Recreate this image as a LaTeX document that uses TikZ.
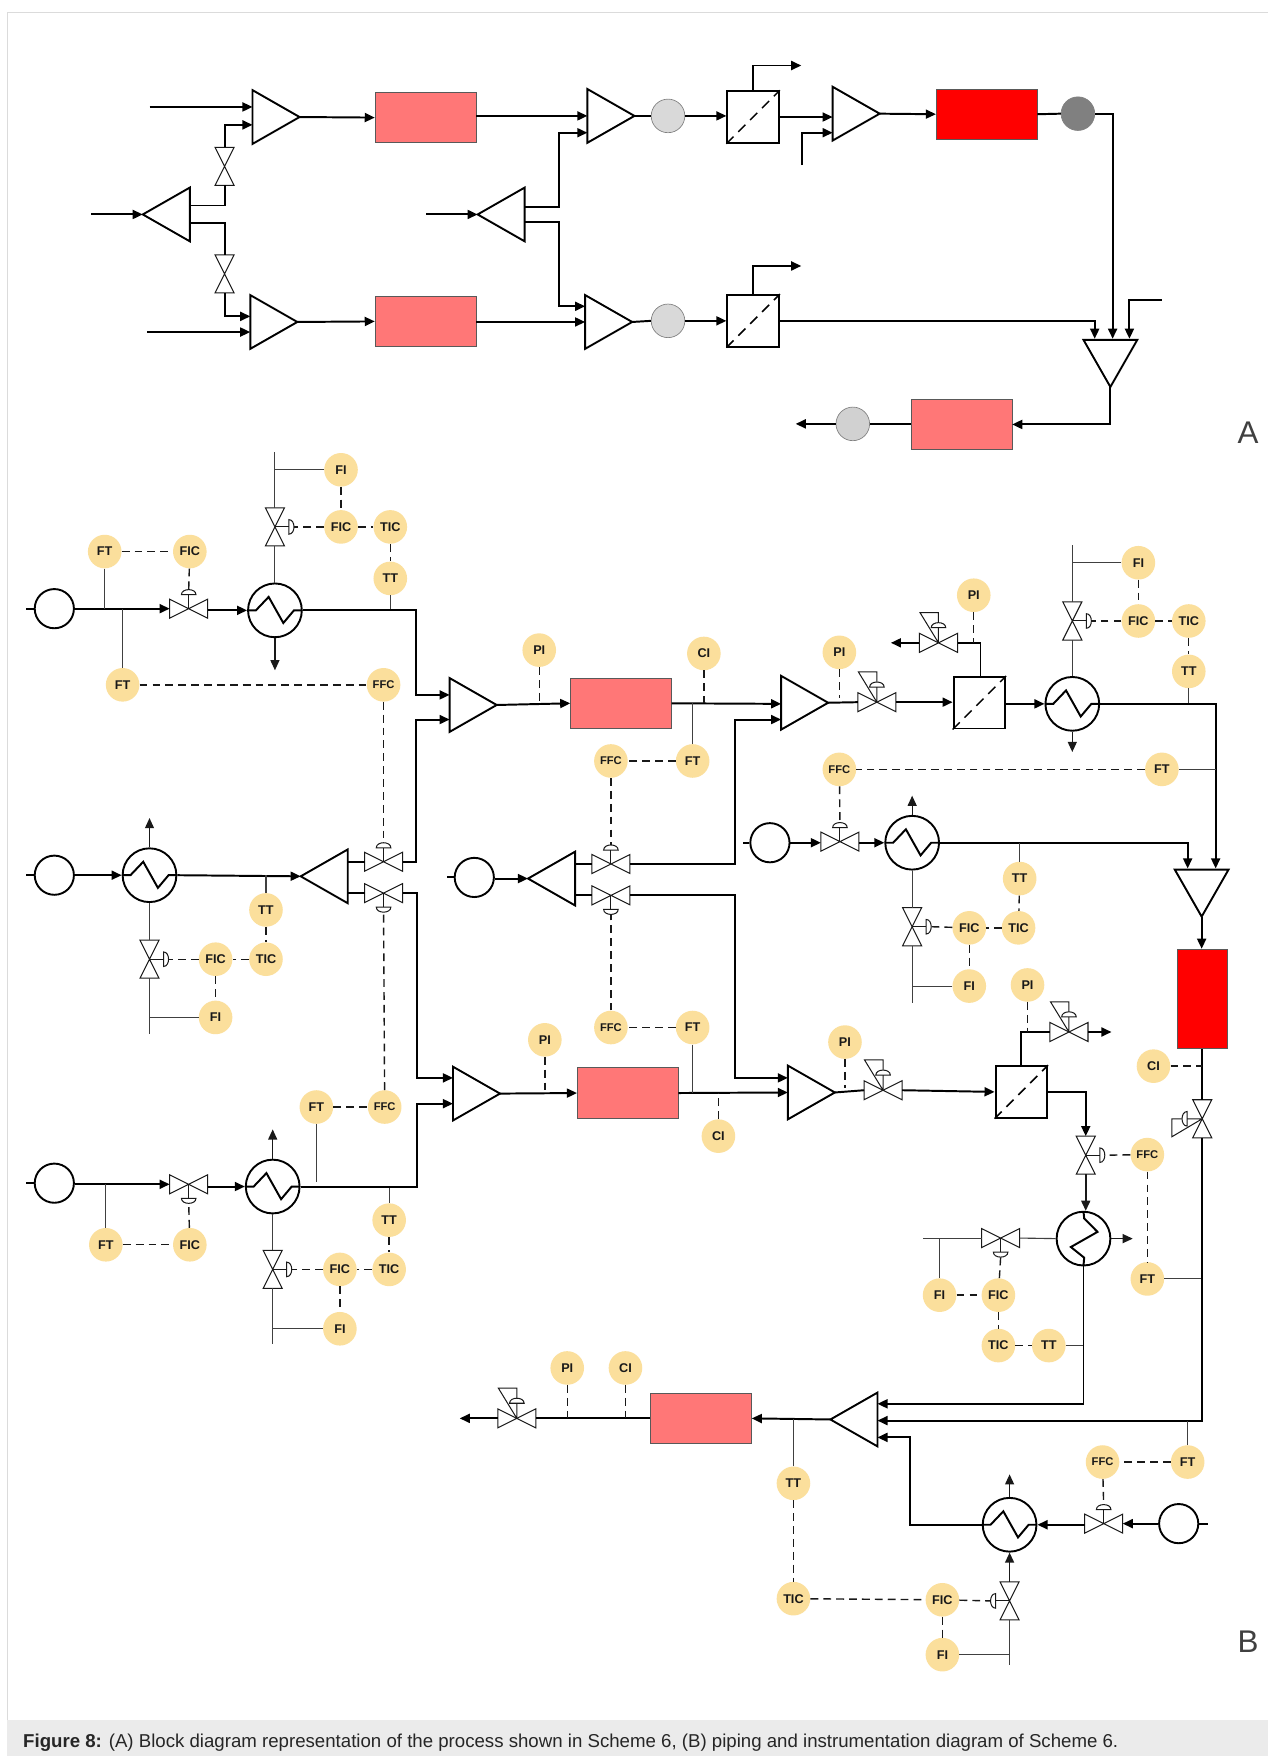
\documentclass[tikz,border=0pt]{standalone}
\usepackage{fontspec}
\setmainfont{Liberation Sans}
\usetikzlibrary{arrows.meta,calc}
\definecolor{instfill}{HTML}{FBDF9C}
\definecolor{pinkbox}{HTML}{FF7777}
\tikzset{
  pipe/.style={line width=1.75pt,black},
  arr/.style={pipe,-{Triangle[length=9pt,width=8pt]}},
  tline/.style={line width=1pt,black!75},
  tarr/.style={line width=1.1pt,black!90,-{Triangle[length=9pt,width=8pt]}},
  sig/.style={line width=1.25pt,black!90,dash pattern=on 7pt off 4.5pt},
  vlv/.style={line width=0.9pt,black!90,fill=white,line join=miter},
  equip/.style={line width=1.7pt,black,line join=miter},
  inst/.style={circle,fill=instfill,minimum size=30pt,inner sep=0pt,font=\fontsize{11.3}{11.3}\selectfont\bfseries,text=black!90},
  instf/.style={inst,font=\fontsize{10}{10}\selectfont\bfseries},
  pinkr/.style={rectangle,draw=black!65,line width=0.6pt,fill=pinkbox,minimum width=90pt,minimum height=45pt,inner sep=0pt},
  redr/.style={rectangle,draw=black!65,line width=0.6pt,fill=red,minimum width=90pt,minimum height=45pt,inner sep=0pt},
  opn/.style={circle,draw=black,line width=1.7pt,fill=white,minimum size=35pt,inner sep=0pt},
  hxc/.style={circle,draw=black,line width=1.7pt,fill=white,minimum size=48pt,inner sep=0pt},
  disc/.style={circle,draw=black!50,line width=0.6pt,minimum size=30pt,inner sep=0pt},
  boxn/.style={rectangle,draw=black,line width=1.75pt,fill=white,minimum width=46pt,minimum height=46pt,inner sep=0pt},
  diag/.style={line width=1.3pt,black,dash pattern=on 9pt off 6pt},
  lett/.style={font=\fontsize{28}{28}\selectfont,text=black!75}
}
\newcommand{\triR}[3]{\coordinate (#1) at (#2,#3);\coordinate (#1-tip) at (#2+42,#3);
  \draw[equip] (#2,#3-24) -- (#2,#3+24) -- (#2+42,#3) -- cycle;}
\newcommand{\triL}[3]{\coordinate (#1-tip) at (#2,#3);\coordinate (#1) at (#2+42,#3);
  \draw[equip] (#2+42,#3-24) -- (#2+42,#3+24) -- (#2,#3) -- cycle;}
\newcommand{\triD}[3]{\coordinate (#1) at (#2,#3);\coordinate (#1-tip) at (#2,#3+42);
  \draw[equip] (#2-24,#3) -- (#2+24,#3) -- (#2,#3+42) -- cycle;}
\newcommand{\valveH}[3]{\coordinate (#1) at (#2,#3);\coordinate (#1-l) at (#2-17,#3);\coordinate (#1-r) at (#2+17,#3);
  \begin{scope}[shift={(#2,#3)}]\draw[vlv] (-17,-8.5) -- (17,8.5) -- (17,-8.5) -- (-17,8.5) -- cycle;\end{scope}}
\newcommand{\valveV}[3]{\coordinate (#1) at (#2,#3);\coordinate (#1-t) at (#2,#3-17);\coordinate (#1-b) at (#2,#3+17);
  \begin{scope}[shift={(#2,#3)}]\draw[vlv] (-8.5,-17) -- (8.5,17) -- (-8.5,17) -- (8.5,-17) -- cycle;\end{scope}}
\newcommand{\actU}[1]{\coordinate (#1-act) at ($(#1)+(0,-17)$);
  \begin{scope}[shift={(#1)}]\draw[vlv] (0,0) -- (0,-12.5);\draw[vlv] (-6.5,-12.5) .. controls (-6.5,-18.5) and (6.5,-18.5) .. (6.5,-12.5) -- cycle;\end{scope}}
\newcommand{\actD}[1]{\coordinate (#1-act) at ($(#1)+(0,17)$);
  \begin{scope}[shift={(#1)}]\draw[vlv] (0,0) -- (0,12.5);\draw[vlv] (-6.5,12.5) .. controls (-6.5,18.5) and (6.5,18.5) .. (6.5,12.5) -- cycle;\end{scope}}
\newcommand{\actR}[1]{\coordinate (#1-act) at ($(#1)+(17,0)$);
  \begin{scope}[shift={(#1)}]\draw[vlv] (0,0) -- (12.5,0);\draw[vlv] (12.5,-6.5) .. controls (18.5,-6.5) and (18.5,6.5) .. (12.5,6.5) -- cycle;\end{scope}}
\newcommand{\actL}[1]{\coordinate (#1-act) at ($(#1)+(-17,0)$);
  \begin{scope}[shift={(#1)}]\draw[vlv] (0,0) -- (-12.5,0);\draw[vlv] (-12.5,-6.5) .. controls (-18.5,-6.5) and (-18.5,6.5) .. (-12.5,6.5) -- cycle;\end{scope}}
\newcommand{\actUT}[1]{\begin{scope}[shift={(#1)}]\draw[vlv,fill=none] (0,0) -- (-16.5,-27) -- (0,-27) -- (0,0);\draw[vlv] (-6.5,-13.5) .. controls (-6.5,-19.5) and (6.5,-19.5) .. (6.5,-13.5) -- cycle;\end{scope}}
\newcommand{\actLT}[1]{\begin{scope}[shift={(#1)}]\draw[vlv,fill=none] (0,0) -- (-27,16) -- (-27,0) -- (0,0);\draw[vlv] (-13.5,-6.5) .. controls (-19.5,-6.5) and (-19.5,6.5) .. (-13.5,6.5) -- cycle;\end{scope}}
\newcommand{\hxH}[3]{\node[hxc] (#1) at (#2,#3) {};
  \begin{scope}[shift={(#2,#3)}]\draw[pipe,line join=miter] (-24,0) -- (-17,0) -- (-5.6,-12) -- (7.5,11.3) -- (17,0) -- (24,0);\end{scope}}
\newcommand{\hxV}[3]{\node[hxc] (#1) at (#2,#3) {};
  \begin{scope}[shift={(#2,#3)}]\draw[pipe,line join=miter] (0,-24) -- (0.6,-18) -- (12.5,-6) -- (-11.3,7.5) -- (0.6,17) -- (0,24);\end{scope}}
\begin{document}
\begin{tikzpicture}[x=1pt,y=-1pt]
\useasboundingbox (-0.5,-0.5) rectangle (1131.5,1567.5);
\fill[white] (-0.5,-0.5) rectangle (1131.5,1567.5);
\draw[black!14,line width=0.9pt] (1132,11) -- (6,11) -- (6,1535);
\fill[black!8] (6,1535) rectangle (1132,1568);
\node[anchor=west,inner sep=0pt,font=\fontsize{16.65}{16.65}\selectfont,text=black!85] (cap) at (20,1556) {\textbf{Figure 8:} (A) Block diagram representation of the process shown in Scheme 6, (B) piping and instrumentation diagram of Scheme 6.};
\node[lett] (labA) at (1114,386) {A};
\node[lett] (labB) at (1114,1465) {B};

% ---------------- A ----------------
\triR{aT1}{225}{104}\triR{aT2}{223}{287}\triL{aS1}{127}{191}\triL{aS2}{426}{191}
\triR{aT3}{524}{103}\triR{aT4}{743}{101}\triR{aT5}{522}{287}\triD{aM}{991}{303}
\valveV{aV1}{200}{148}\valveV{aV2}{200}{244}
\node[pinkr] (aR1) at (379.5,104.5) {};
\node[pinkr] (aR2) at (379.5,286.5) {};
\node[redr] (aR3) at (880.5,101.5) {};
\node[pinkr] (aR4) at (858,378.5) {};
\node[disc,fill=black!15] (aC1) at (596,103) {};
\node[disc,fill=black!15] (aC2) at (596,286) {};
\node[disc,fill=black!50] (aC3) at (962,101) {};
\node[disc,fill=black!18] (aC4) at (761,378) {};
\node[boxn] (aB1) at (672,104) {};
\node[boxn] (aB2) at (672,286) {};
\draw[diag] (aB1.south west) -- (aB1.north east);
\draw[diag] (aB2.south west) -- (aB2.north east);
\coordinate (ain1) at (133,95);\coordinate (aT1a) at (225,95);
\coordinate (ain2) at (131,296);\coordinate (aT2b) at (223,296);
\coordinate (ain3) at (81,191);\coordinate (ain4) at (380,191);
\coordinate (aS1a) at (169,183);\coordinate (aS1b) at (169,199);
\coordinate (aT1b) at (225,111);\coordinate (aT2a) at (223,282);
\coordinate (aS2a) at (468,184);\coordinate (aS2b) at (468,198);
\coordinate (aT3b) at (524,118);\coordinate (aT5a) at (522,273);
\coordinate (aT4a) at (743,104);\coordinate (aT4b) at (743,118);\coordinate (ain5) at (716,147);
\coordinate (aout1) at (715,58);\coordinate (aout2) at (715,237);
\coordinate (aMa) at (977,302);\coordinate (aMb) at (993,302);\coordinate (aMc) at (1008,302);
\coordinate (ain6) at (1037,267);\coordinate (aout3) at (710,378);
\coordinate (aT5m) at (522,287);
\draw[arr] (ain1) -- (aT1a);
\draw[arr] (ain2) -- (aT2b);
\draw[arr] (ain3) -- (aS1-tip);
\draw[arr] (ain4) -- (aS2-tip);
\draw[pipe] (aS1a) -| (aV1-b);
\draw[arr] (aV1-t) |- (aT1b);
\draw[pipe] (aS1b) -| (aV2-t);
\draw[arr] (aV2-b) |- (aT2a);
\draw[arr] (aT1-tip) -- (aR1.west);
\draw[arr] (aT2-tip) -- (aR2.west);
\draw[arr] (aT3 -| aR1.east) -- (aT3);
\draw[arr] (aT5m -| aR2.east) -- (aT5m);
\draw[arr] (aS2a) -| (499,118) -- (aT3b);
\draw[arr] (aS2b) -| (499,273) -- (aT5a);
\draw[pipe] (aT3-tip) -- (aC1.west);
\draw[pipe] (aT5-tip) -- (aC2.west);
\draw[arr] (aC1.east) -- (aC1 -| aB1.west);
\draw[arr] (aC2.east) -- (aB2.west);
\draw[arr] (aB1.north) |- (aout1);
\draw[arr] (aB2.north) |- (aout2);
\draw[arr] (aB1.east) -- (aT4a);
\draw[arr] (ain5) |- (aT4b);
\draw[arr] (aT4-tip) -- (aR3.west);
\draw[pipe] (aR3.east) -- (aC3.west);
\draw[arr] (aC3.east) -| (aMb);
\draw[arr] (aB2.east) -| (aMa);
\draw[arr] (ain6) -| (aMc);
\draw[arr] (aM-tip) |- (aR4.east);
\draw[pipe] (aC4 -| aR4.west) -- (aC4.east);
\draw[arr] (aC4.west) -- (aout3);

% ---------------- B upper-left line ----------------
\node[opn] (c1) at (48,543) {};
\coordinate (c1s) at (23,543);
\draw[pipe] (c1s) -- (c1.west);
\valveH{v1}{168}{543}\actU{v1}
\hxH{hx1}{245}{544.5}
\valveV{v1c}{245}{470}\actR{v1c}
\coordinate (hx1top) at (245,403);
\coordinate (hx1dn) at (245,598);
\node[inst] (i1) at (93,492) {FT};
\node[inst] (i2) at (169,492) {FIC};
\node[inst] (i3) at (109,611) {FT};
\node[instf] (i4) at (342,611) {FFC};
\node[inst] (i5) at (304,419) {FI};
\node[inst] (i6) at (304,470) {FIC};
\node[inst] (i7) at (348,470) {TIC};
\node[inst] (i8) at (348,516) {TT};
\draw[arr] (c1.east) -- (v1-l);
\draw[arr] (v1-r |- hx1) -- (hx1.west);
\draw[tline] (i1) -- (i1 |- c1);
\draw[tline] (i3) -- (i3 |- c1);
\draw[tline] (i8) -- (i8 |- hx1);
\draw[sig] (i1) -- (i2);
\draw[sig] (i2) -- (v1-act);
\draw[sig] (i3) -- (i4);
\draw[tline] (hx1.north) -- (v1c-b);
\draw[tline] (v1c-t) -- (hx1top);
\draw[tline] (i5) -- (i5 -| hx1top);
\draw[tarr] (hx1.south) -- (hx1dn);
\draw[sig] (i5) -- (i6);
\draw[sig] (i6) -- (i7);
\draw[sig] (i7) -- (i8);
\draw[sig] (i6) -- (v1c-act);

% triangles + valves of feed split
\triR{T6}{401}{629}
\triL{S3}{268}{782}
\valveH{v2a}{342}{769}\actU{v2a}
\valveH{v2b}{342}{797}\actD{v2b}
\coordinate (T6a) at (401,620);\coordinate (T6b) at (401,642);
\coordinate (S3a) at (310,769);\coordinate (S3b) at (310,797);
\draw[arr] (hx1.east) -| (371,620) -- (T6a);
\draw[arr] (v2a-r) -| (371,642) -- (T6b);
\draw[pipe] (S3a) -- (v2a-l);
\draw[pipe] (S3b) -- (v2b-l);
\draw[sig] (i4) -- (v2a-act);

% second line
\node[opn] (c2) at (48,781) {};
\coordinate (c2s) at (23,781);
\draw[pipe] (c2s) -- (c2.west);
\hxH{hx2}{133}{781}
\draw[arr] (c2.east) -- (hx2.west);
\draw[arr] (hx2.east) -- (S3-tip);
\coordinate (hx2up) at (133,730);
\draw[tarr] (hx2.north) -- (hx2up);
\valveV{v2c}{133}{856}\actR{v2c}
\coordinate (hx2bot) at (133,923);
\node[inst] (j1) at (237,812) {TT};
\node[inst] (j2) at (237,856) {TIC};
\node[inst] (j3) at (192,856) {FIC};
\node[inst] (j4) at (192,908) {FI};
\draw[tline] (j1) -- (j1 |- hx2);
\draw[tline] (hx2.south) -- (v2c-t);
\draw[tline] (v2c-b) -- (hx2bot);
\draw[tline] (j4) -- (j4 -| hx2bot);
\draw[sig] (j1) -- (j2);
\draw[sig] (j2) -- (j3);
\draw[sig] (j3) -- (j4);
\draw[sig] (j3) -- (v2c-act);

% third line
\node[opn] (c3) at (48,1056) {};
\coordinate (c3s) at (23,1056);
\draw[pipe] (c3s) -- (c3.west);
\valveH{v3}{168}{1057}\actD{v3}
\hxH{hx3}{243}{1059}
\valveV{v3c}{243}{1133}\actR{v3c}
\coordinate (hx3up) at (243,1008);
\coordinate (hx3bot) at (243,1200);
\node[inst] (k1) at (94,1111) {FT};
\node[inst] (k2) at (169,1111) {FIC};
\node[inst] (k3) at (282,988) {FT};
\node[instf] (k4) at (343,988) {FFC};
\node[inst] (k5) at (347,1089) {TT};
\node[inst] (k6) at (347,1133) {TIC};
\node[inst] (k7) at (303,1133) {FIC};
\node[inst] (k8) at (303,1186) {FI};
\coordinate (k3e) at (282,1055);
\draw[arr] (c3.east |- v3) -- (v3-l);
\draw[arr] (v3-r |- hx3) -- (hx3.west);
\draw[tline] (k1) -- (k1 |- v3);
\draw[sig] (k1) -- (k2);
\draw[sig] (k2) -- (v3-act);
\draw[tline] (k3) -- (k3e);
\draw[sig] (k3) -- (k4);
\draw[sig] (k4) -- (v2b-act);
\draw[tarr] (hx3.north) -- (hx3up);
\draw[tline] (hx3.south) -- (v3c-t);
\draw[tline] (v3c-b) -- (hx3bot);
\draw[tline] (k8) -- (k8 -| hx3bot);
\draw[tline] (k5) -- (k5 |- hx3);
\draw[sig] (k5) -- (k6);
\draw[sig] (k6) -- (k7);
\draw[sig] (k7) -- (k8);
\draw[sig] (k7) -- (v3c-act);
\triR{T8}{404}{976}
\coordinate (T8a) at (404,962);\coordinate (T8b) at (404,985);
\draw[arr] (v2b-r) -| (372,962) -- (T8a);
\draw[arr] (hx3.east) -| (372,985) -- (T8b);

% ---------------- B middle ----------------
\node[pinkr] (R1) at (554,627.5) {};
\node[pinkr] (R2) at (560,975.5) {};
\node[inst] (m1) at (481,580) {PI};
\node[inst] (m2) at (628,583) {CI};
\node[inst] (m3) at (618,679) {FT};
\node[instf] (m4) at (545,679) {FFC};
\node[inst] (m5) at (486,928) {PI};
\node[inst] (m6) at (618,917) {FT};
\node[instf] (m7) at (545,917) {FFC};
\node[inst] (m8) at (641,1014) {CI};
\draw[arr] (T6-tip) -- (R1.west);
\draw[arr] (T8-tip) -- (R2.west);
\triR{T7}{697}{627}
\triR{T9}{703}{975}
\triL{S4}{471}{784}
\valveH{v4a}{545}{771}\actU{v4a}
\valveH{v4b}{545}{799}\actD{v4b}
\node[opn] (c4) at (423,783) {};
\coordinate (c4s) at (399,783);
\draw[pipe] (c4s) -- (c4.west);
\draw[arr] (c4.east |- S4-tip) -- (S4-tip);
\coordinate (S4a) at (513,771);\coordinate (S4b) at (513,799);
\draw[pipe] (S4a) -- (v4a-l);
\draw[pipe] (S4b) -- (v4b-l);
\coordinate (T7m) at (697,628);\coordinate (T7b) at (697,642);
\coordinate (T9a) at (703,962);\coordinate (T9m) at (703,975);
\draw[arr] (R1.east) -- (T7m);
\draw[arr] (R2.east) -- (T9m);
\draw[arr] (v4a-r) -| (656,642) -- (T7b);
\draw[arr] (v4b-r) -| (656,962) -- (T9a);
\draw[sig] (m1) -- (m1 |- R1);
\draw[sig] (m2) -- (m2 |- R1);
\draw[tline] (m3) -- (m3 |- R1);
\draw[sig] (m3) -- (m4);
\draw[sig] (m4) -- (v4a-act);
\draw[sig] (m5) -- (m5 |- R2);
\draw[tline] (m6) -- (m6 |- R2);
\draw[sig] (m6) -- (m7);
\draw[sig] (m7) -- (v4b-act);
\draw[sig] (m8) -- (m8 |- R2);

% ---------------- B upper right ----------------
\valveH{v5}{782.5}{626.5}\actUT{v5}
\node[inst] (n1) at (749,582) {PI};
\coordinate (n1e) at (749,623);
\draw[sig] (n1) -- (n1e);
\draw[pipe] (T7-tip) -- (v5-l);
\node[boxn] (B1) at (874,627) {};
\draw[diag] (B1.south west) -- (B1.north east);
\draw[arr] (v5-r) -- (v5-r -| B1.west);
\valveH{v6}{837.5}{573.5}\actUT{v6}
\coordinate (v6out) at (795,573.5);
\draw[arr] (v6-l) -- (v6out);
\draw[pipe] (B1.north) ++(1,0) |- (v6-r);
\node[inst] (n2) at (869,531) {PI};
\draw[sig] (n2) -- (n2 |- v6);
\hxH{hx4}{957}{628}
\draw[arr] (B1.east |- hx4) -- (hx4.west);
\coordinate (hx4dn) at (957,671);
\draw[tarr] (hx4.south) -- (hx4dn);
\valveV{v7}{957}{554}\actR{v7}
\coordinate (v7top) at (957,486);
\draw[tline] (hx4.north) -- (v7-b);
\draw[tline] (v7-t) -- (v7top);
\node[inst] (n3) at (1016,502) {FI};
\node[inst] (n4) at (1016,554) {FIC};
\node[inst] (n5) at (1061,554) {TIC};
\node[inst] (n6) at (1061,599) {TT};
\draw[tline] (n3) -- (n3 -| v7top);
\draw[sig] (n3) -- (n4);
\draw[sig] (n4) -- (n5);
\draw[sig] (n5) -- (n6);
\draw[sig] (n4) -- (v7-act);
\draw[tline] (n6) -- (n6 |- hx4);
\triD{M2}{1072.5}{776}
\coordinate (M2a) at (1060,775);\coordinate (M2b) at (1085,775);
\draw[arr] (hx4.east) -| (M2b);
\node[inst] (n7) at (1037,686.5) {FT};
\node[instf] (n8) at (749,686.5) {FFC};
\draw[tline] (n7) -- (n7 -| M2b);
\draw[sig] (n7) -- (n8);
\valveH{v8}{749.5}{751}\actU{v8}
\draw[sig] (n8) -- (v8-act);
\node[opn] (c5) at (687,752) {};
\coordinate (c5s) at (663,752);
\draw[pipe] (c5s) -- (c5.west);
\hxH{hx5}{814}{752}
\draw[arr] (c5.east) -- (v8-l |- c5);
\draw[arr] (v8-r |- hx5) -- (hx5.west);
\coordinate (hx5up) at (814,710);
\draw[tarr] (hx5.north) -- (hx5up);
\draw[arr] (hx5.east) -| (M2a);
\node[inst] (p1) at (910,784) {TT};
\node[inst] (p2) at (909,828) {TIC};
\node[inst] (p3) at (865,828) {FIC};
\node[inst] (p4) at (865,880) {FI};
\valveV{v9}{814}{827}\actR{v9}
\coordinate (v9bot) at (814,895);
\draw[tline] (p1) -- (p1 |- hx5);
\draw[sig] (p1) -- (p2);
\draw[sig] (p2) -- (p3);
\draw[sig] (p3) -- (p4);
\draw[sig] (p3) -- (v9-act);
\draw[tline] (hx5.south) -- (v9-t);
\draw[tline] (v9-b) -- (v9bot);
\draw[tline] (p4) -- (p4 -| v9bot);
\node[redr,minimum width=45pt,minimum height=89pt] (R3) at (1073,891.5) {};
\draw[arr] (M2-tip) -- (M2-tip |- R3.north);

% ---------------- B lower right ----------------
\valveH{v10}{788}{973}\actUT{v10}
\draw[pipe] (T9-tip) -- (v10-l);
\node[inst] (q1) at (754,930) {PI};
\coordinate (q1e) at (754,971);
\draw[sig] (q1) -- (q1e);
\node[boxn] (B2) at (911.5,974.5) {};
\draw[diag] (B2.south west) -- (B2.north east);
\draw[arr] (v10-r) -- (B2.west);
\valveH{v11}{954}{921}\actUT{v11}
\draw[pipe] (B2.north) |- (v11-l);
\coordinate (v11out) at (992,921);
\draw[arr] (v11-r) -- (v11out);
\node[inst] (q2) at (917,879) {PI};
\draw[sig] (q2) -- (q2 |- v11);
\valveV{v12}{969}{1031}\actR{v12}
\draw[arr] (B2.east) -| (v12-t);
\hxV{hx6}{967}{1105.5}
\draw[tarr,line width=1.5pt] (v12-b) -- (v12-b |- hx6.north);
\coordinate (hx6r) at (1011,1105.5);
\draw[tarr] (hx6.east) -- (hx6r);
\valveH{v13}{893}{1105}\actD{v13}
\coordinate (v13l) at (824,1105);
\draw[tline] (hx6.west) -- (v13-r);
\draw[tline] (v13-l) -- (v13l);
\node[inst] (q3) at (838.5,1156) {FI};
\node[inst] (q4) at (891,1156) {FIC};
\node[inst] (q5) at (891,1201) {TIC};
\node[inst] (q6) at (936,1201) {TT};
\draw[tline] (q3) -- (q3 |- v13l);
\draw[sig] (q3) -- (q4);
\draw[sig] (q4) -- (q5);
\draw[sig] (q5) -- (q6);
\draw[sig] (q4) -- (v13-act);
\draw[tline] (q6) -- (q6 -| hx6);
\node[instf] (q7) at (1024,1030.5) {FFC};
\node[inst] (q8) at (1024,1141.5) {FT};
\node[inst] (q9) at (1029.5,951.5) {CI};
\valveV{v14}{1073}{998.5}\actLT{v14}
\draw[pipe] (R3.south) -- (v14-t);
\draw[sig] (q9) -- (q9 -| v14);
\draw[sig] (q7) -- (v12-act);
\draw[sig] (q7) -- (q8);
\draw[tline] (q8) -- (q8 -| v14);

% ---------------- B bottom ----------------
\triL{S5}{741}{1267}
\coordinate (S5a) at (783,1253);\coordinate (S5b) at (783,1268);\coordinate (S5c) at (783,1283);
\draw[arr] (v14-b) |- (S5b);
\draw[arr] (hx6.south) |- (S5a);
\hxH{hx7}{901}{1361}
\draw[arr] (hx7.west) -| (812,1283) -- (S5c);
\node[pinkr] (R4) at (625.5,1266) {};
\draw[arr] (S5-tip) -- (R4.east);
\valveH{v15}{461}{1266}\actUT{v15}
\draw[pipe] (R4.west) -- (v15-r);
\coordinate (v15o) at (410,1266);
\draw[arr] (v15-l) -- (v15o);
\node[inst] (r1) at (506,1221) {PI};
\node[inst] (r2) at (558,1221) {CI};
\draw[sig] (r1) -- (r1 |- R4);
\draw[sig] (r2) -- (r2 |- R4);
\node[inst] (r3) at (708,1324) {TT};
\node[inst] (r4) at (708,1427) {TIC};
\node[inst] (r5) at (841,1428) {FIC};
\node[inst] (r6) at (841,1477) {FI};
\node[inst] (r7) at (1060,1305) {FT};
\node[instf] (r8) at (984,1305) {FFC};
\draw[tline] (r3) -- (r3 |- S5-tip);
\draw[sig] (r3) -- (r4);
\draw[sig] (r4) -- (r5);
\draw[sig] (r5) -- (r6);
\draw[tline] (r7) -- (r7 |- S5b);
\draw[sig] (r7) -- (r8);
\valveV{v16}{901}{1429}\actL{v16}
\valveH{v17}{985}{1360}\actU{v17}
\node[opn] (c6) at (1052,1360) {};
\coordinate (c6s) at (1078,1360);
\draw[pipe] (c6.east) -- (c6s);
\draw[arr] (c6.west) -- (v17-r);
\draw[arr] (v17-l |- hx7) -- (hx7.east);
\draw[sig] (r8) -- (v17-act);
\coordinate (hx7up) at (901,1316);
\draw[tarr] (hx7.north) -- (hx7up);
\draw[tarr,line width=1.3pt] (v16-t) -- (hx7.south);
\coordinate (v16bot) at (901,1486);
\draw[tline] (v16-b) -- (v16bot);
\draw[tline] (r6) -- (r6 -| v16bot);
\draw[sig] (r5) -- (v16-act);
\end{tikzpicture}
\end{document}
